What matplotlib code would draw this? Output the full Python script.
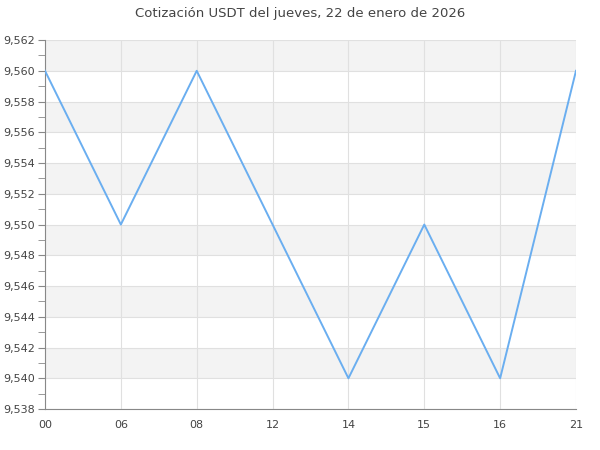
import matplotlib
matplotlib.use("Agg")
import matplotlib.pyplot as plt
import numpy as np
from matplotlib.ticker import MultipleLocator, FuncFormatter

hours = ["00", "06", "08", "12", "14", "15", "16", "21"]
prices = [9.560, 9.550, 9.560, 9.550, 9.540, 9.550, 9.540, 9.560]

y_min, y_max, step = 9.538, 9.562, 0.002

fig = plt.figure(figsize=(6, 4.5), dpi=100)
ax = fig.add_axes([0.075, 0.091, 0.885, 0.82])

x = np.arange(len(hours))

# alternating bands
levels = np.arange(y_min, y_max + step / 2, step)
for i in range(len(levels) - 1):
    if (len(levels) - 2 - i) % 2 == 0:
        ax.axhspan(levels[i], levels[i + 1], color="#f3f3f3", zorder=0, lw=0)

ax.plot(x, prices, color="#6aaef0", lw=1.4, zorder=3)

ax.set_xlim(0, len(hours) - 1)
ax.set_ylim(y_min, y_max)
ax.set_xticks(x)
ax.set_xticklabels(hours)
ax.yaxis.set_major_locator(MultipleLocator(step))
ax.yaxis.set_minor_locator(MultipleLocator(step / 2))
ax.yaxis.set_major_formatter(FuncFormatter(lambda v, p: f"{v:.3f}".replace(".", ",")))

ax.grid(True, which="major", color="#e0e0e0", lw=0.8, zorder=1)
ax.set_axisbelow(True)

for s in ["top", "right"]:
    ax.spines[s].set_visible(False)
for s in ["left", "bottom"]:
    ax.spines[s].set_color("#888888")

ax.tick_params(axis="y", which="both", length=5, color="#888888", labelsize=8, labelcolor="#444444", pad=2)
ax.tick_params(axis="x", length=0, labelsize=8, labelcolor="#444444", pad=8)

fig.suptitle("Cotización USDT del jueves, 22 de enero de 2026", fontsize=9.5, color="#444444", y=0.985)

fig.savefig("out.png")
